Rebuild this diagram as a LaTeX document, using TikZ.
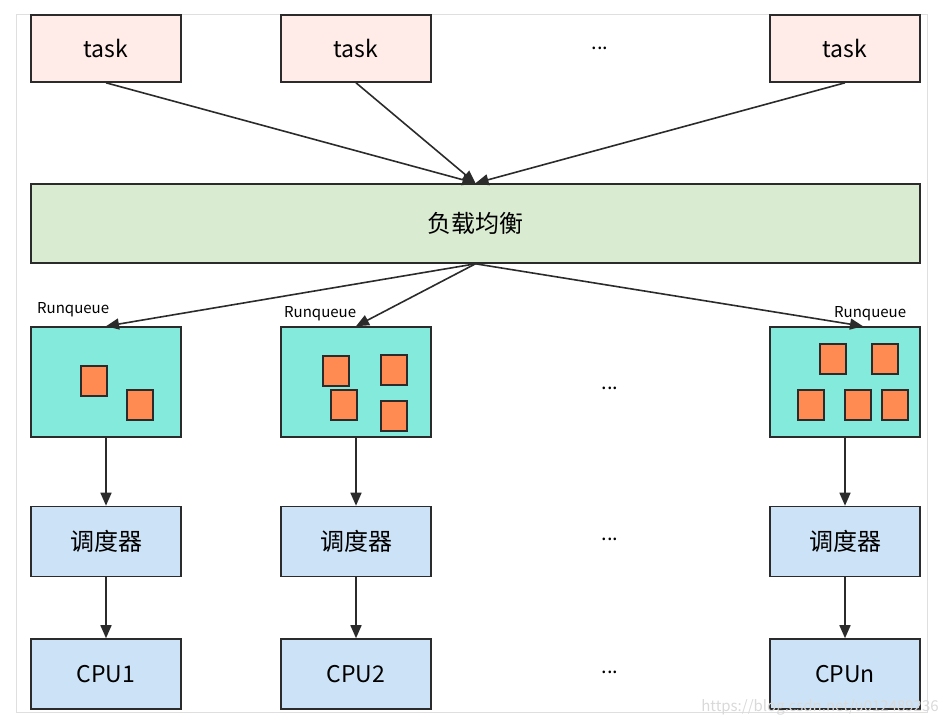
\documentclass[tikz,border=0pt]{standalone}
\usepackage{fontspec}
\setmainfont{Noto Sans CJK SC}
\usetikzlibrary{arrows.meta}
\definecolor{taskfill}{HTML}{FFECE8}
\definecolor{lbfill}{HTML}{D9EBD1}
\definecolor{rqfill}{HTML}{84EBDC}
\definecolor{itemfill}{HTML}{FF8A52}
\definecolor{cpufill}{HTML}{CCE3F7}
\definecolor{edge}{HTML}{2B2B2B}
\tikzset{
  box/.style={draw=edge, line width=1.6pt, inner sep=0pt, minimum width=150pt, font=\fontsize{23}{27}\selectfont},
  taskbox/.style={box, fill=taskfill, minimum height=67pt},
  rqbox/.style={box, fill=rqfill, minimum height=110pt},
  cpubox/.style={box, fill=cpufill, minimum height=70pt},
  cjk/.style={font=\fontsize{24}{28}\selectfont},
  item/.style={draw=edge, line width=1.6pt, fill=itemfill},
  conn/.style={draw=edge, line width=1.6pt, -{Triangle[length=13pt,width=11pt]}},
  rqlabel/.style={anchor=base west, inner sep=0pt, font=\fontsize{15}{18}\selectfont},
  dots/.style={font=\fontsize{20}{24}\selectfont}
}
\begin{document}
\begin{tikzpicture}[x=1pt, y=-1pt]
    \useasboundingbox (0,0) rectangle (947,726);
    \draw[gray!25, line width=1pt] (16,14) rectangle (927,712);% frame

    % tasks
    \node[taskbox] (task1) at (106,48.5) {task};
    \node[taskbox] (task2) at (356,48.5) {task};
    \node[dots] (taskdots) at (600,48) {...};
    \node[taskbox] (taskn) at (845,48.5) {task};

    % load balancing
    \node[box, cjk, fill=lbfill, minimum width=889pt, minimum height=79pt] (lb) at (475.5,223.5) {负载均衡};
    \draw[conn] (task1.south) -- (lb.north);
    \draw[conn] (task2.south) -- (lb.north);
    \draw[conn] (taskn.south) -- (lb.north);

    % run queues
    \node[rqbox] (rq1) at (106,382) {};
    \node[rqbox] (rq2) at (356,382) {};
    \node[dots] (rqdots) at (610,388) {...};
    \node[rqbox] (rqn) at (845,382) {};
    \node[rqlabel] (rq1label) at (37,313) {Runqueue};
    \node[rqlabel] (rq2label) at (284,317) {Runqueue};
    \node[rqlabel] (rqnlabel) at (834,317) {Runqueue};
    \draw[conn] (lb.south) -- (rq1.north);
    \draw[conn] (lb.south) -- (rq2.north);
    \draw[conn] (lb.south) -- ([xshift=18pt]rqn.north);

    \foreach \x/\y in {81/366, 127/390, 323/356, 381/355, 331/390, 381/401,
                       820/344, 872/344, 798/390, 845/390, 882/390}
        \draw[item] (\x,\y) rectangle ++(26,30);

    % schedulers
    \node[cpubox, cjk] (sched1) at (106,541.5) {调度器};
    \node[cpubox, cjk] (sched2) at (356,541.5) {调度器};
    \node[dots] (scheddots) at (610,539) {...};
    \node[cpubox, cjk] (schedn) at (845,541.5) {调度器};
    \draw[conn] (rq1.south) -- (sched1.north);
    \draw[conn] (rq2.south) -- (sched2.north);
    \draw[conn] (rqn.south) -- (schedn.north);

    % cpus
    \node[cpubox] (cpu1) at (106,674) {CPU1};
    \node[cpubox] (cpu2) at (356,674) {CPU2};
    \node[dots] (cpudots) at (610,672) {...};
    \node[cpubox] (cpun) at (845,674) {CPUn};
    \draw[conn] (sched1.south) -- (cpu1.north);
    \draw[conn] (sched2.south) -- (cpu2.north);
    \draw[conn] (schedn.south) -- (cpun.north);

    \node[gray!30, font=\fontsize{15}{18}\selectfont] (mark) at (820,707) {https://blog.csdn.net/u012489236};
\end{tikzpicture}
\end{document}
